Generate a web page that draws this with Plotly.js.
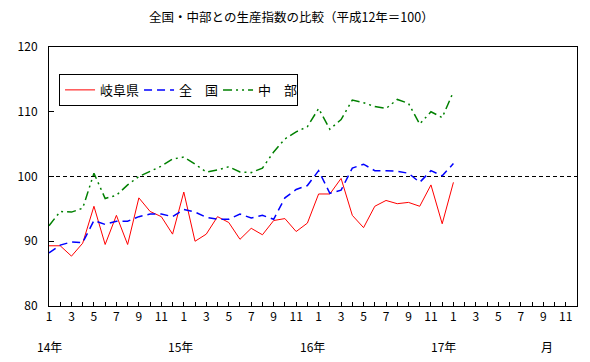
<!DOCTYPE html>
<html>
<head>
<meta charset="utf-8">
<script src="https://cdn.plot.ly/plotly-3.0.1.min.js"></script>
<style>html,body{margin:0;padding:0;background:#fff;}#chart{width:590px;height:362px;}</style>
</head>
<body>
<div id="chart"></div>
<script>
// 平成26年(14年)1月 ～ 平成29年(17年)1月, monthly production index (平成12年=100)
const gifu = [89.3, 89.3, 87.7, 89.7, 95.4, 89.5, 94.0, 89.5, 96.7, 94.6, 93.8, 91.1,
              97.6, 90.0, 91.1, 93.8, 92.9, 90.3, 92.0, 91.0, 93.2, 93.5, 91.5, 92.8,
              97.3, 97.3, 99.7, 94.0, 92.1, 95.4, 96.3, 95.8, 96.0, 95.4, 98.7, 92.7,
              99.1];
const zenkoku = [88.2, 89.4, 89.9, 89.8, 93.2, 92.6, 93.1, 93.1, 93.8, 94.2, 94.2, 93.8,
                 94.9, 94.5, 93.7, 93.4, 93.4, 94.2, 93.6, 94.0, 93.4, 96.7, 98.0, 98.6,
                 100.9, 97.4, 97.9, 101.3, 101.9, 100.9, 100.9, 100.8, 100.5, 99.1, 100.9, 100.1,
                 102.0];
const chubu = [92.4, 94.6, 94.5, 95.1, 100.5, 96.6, 97.1, 98.7, 100.0, 100.8, 101.6, 102.7,
               103.0, 101.9, 100.7, 101.0, 101.5, 100.7, 100.6, 101.3, 103.8, 105.8, 106.9, 107.7,
               110.5, 107.3, 108.8, 111.8, 111.4, 110.8, 110.5, 111.9, 111.3, 108.1, 110.0, 109.1,
               113.1];
const seriesNames = ['岐阜県', '全　国', '中　部'];
const yearLabels = ['14年', '15年', '16年', '17年'];
const monthLabels = ['1', '', '3', '', '5', '', '7', '', '9', '', '11', ''];
const yearsOnAxis = 4;
const baseline = 100;
const titleText = '全国・中部との生産指数の比較（平成12年＝100）';

const idx = arr => arr.map((_, i) => i);
const nSlots = monthLabels.length * yearsOnAxis;
const tickvals = [];
const ticktext = [];
for (let i = 0; i < nSlots; i++) { tickvals.push(i); ticktext.push(monthLabels[i % monthLabels.length]); }

const FONT = '"Noto Sans CJK JP", "Noto Sans", sans-serif';

const traces = [
  {x: idx(gifu), y: gifu, name: seriesNames[0], type: 'scatter', mode: 'lines',
   line: {color: '#FF0000', width: 1}},
  {x: idx(zenkoku), y: zenkoku, name: seriesNames[1], type: 'scatter', mode: 'lines',
   line: {color: '#0000FF', width: 1.5, dash: '8px,5px'}},
  {x: idx(chubu), y: chubu, name: seriesNames[2], type: 'scatter', mode: 'lines',
   line: {color: '#008000', width: 1.5, dash: '9px,4px,2px,4px,2px,4px'}}
];

const yearX = [0, 0.2496, 0.4991, 0.7472];
const annotations = yearLabels.map((t, k) => ({
  text: t, xref: 'paper', yref: 'paper', x: yearX[k], y: 0, yshift: -40,
  xanchor: 'center', yanchor: 'middle', showarrow: false,
  font: {family: FONT, size: 12, color: '#000'}
}));
annotations.push({text: '月', xref: 'paper', yref: 'paper', x: 0.943, y: 0, yshift: -40,
  xanchor: 'center', yanchor: 'middle', showarrow: false, font: {family: FONT, size: 12, color: '#000'}});

const layout = {
  width: 590, height: 362,
  margin: {l: 49, r: 13, t: 47, b: 56},
  paper_bgcolor: '#fff', plot_bgcolor: '#fff',
  font: {family: FONT, size: 12, color: '#000'},
  title: {text: titleText, x: 0.459, xanchor: 'center', xref: 'paper', y: 0.95, yanchor: 'middle',
          font: {family: FONT, size: 12.5, color: '#000'}},
  showlegend: true,
  legend: {orientation: 'h', x: 0.019, xanchor: 'left', y: 0.896, yanchor: 'top',
           bordercolor: '#000', borderwidth: 1, bgcolor: '#fff',
           font: {family: FONT, size: 13, color: '#000'}, itemwidth: 30, traceorder: 'normal',
           entrywidth: 34, entrywidthmode: 'pixels'},
  xaxis: {range: [0, nSlots - 1], tickvals: tickvals, ticktext: ticktext,
          ticks: 'inside', ticklen: 4, tickcolor: '#000', tickwidth: 1,
          showline: true, linecolor: '#000', linewidth: 1, mirror: true,
          showgrid: false, zeroline: false, fixedrange: true,
          tickfont: {family: FONT, size: 12, color: '#000'}},
  yaxis: {range: [80, 120], dtick: 10, tick0: 80,
          ticks: 'inside', ticklen: 5, tickcolor: '#000', tickwidth: 1,
          showline: true, linecolor: '#000', linewidth: 1, mirror: true,
          showgrid: false, zeroline: false, fixedrange: true, ticklabelstandoff: 8,
          tickfont: {family: FONT, size: 12, color: '#000'}},
  shapes: [{type: 'line', xref: 'paper', x0: 0, x1: 1, yref: 'y', y0: baseline, y1: baseline,
            line: {color: '#000', width: 1, dash: '4px,3px'}, layer: 'below'}],
  annotations: annotations
};

Plotly.newPlot('chart', traces, layout, {staticPlot: true, displayModeBar: false});
</script>
</body>
</html>
